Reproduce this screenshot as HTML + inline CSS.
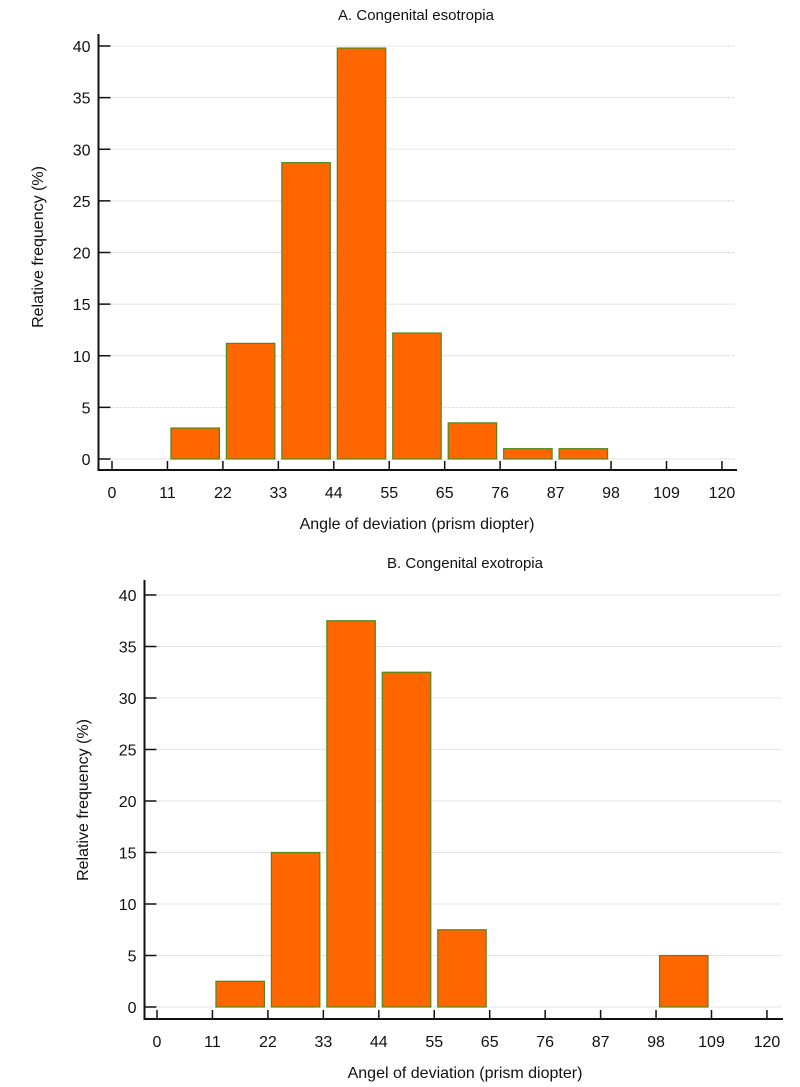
<!DOCTYPE html>
<html><head><meta charset="utf-8"><style>
html,body{margin:0;padding:0;background:#fff;}
svg{display:block;font-family:"Liberation Sans",Arial,sans-serif;}
</style></head><body>
<svg id="svg" width="800" height="1087" viewBox="0 0 800 1087"></svg>
<script>
const categories = ["0","11","22","33","44","55","65","76","87","98","109","120"];
const yTicks = [0,5,10,15,20,25,30,35,40];
const seriesA = [0, 3, 11.2, 28.7, 39.8, 12.2, 3.5, 1, 1, 0, 0];
const seriesB = [0, 2.5, 15, 37.5, 32.5, 7.5, 0, 0, 0, 5, 0];
const titles = ["A. Congenital esotropia", "B. Congenital exotropia"];
const xTitles = ["Angle of deviation (prism diopter)", "Angel of deviation (prism diopter)"];

const NS = "http://www.w3.org/2000/svg";
const svg = document.getElementById('svg');
function mk(tag, attrs, parent){const e=document.createElementNS(NS,tag);for(const k in attrs)e.setAttribute(k,attrs[k]);(parent||svg).appendChild(e);return e;}

function drawPanel(cfg, data, idx){
  const g = mk('g',{});
  
  
  const xs = i => cfg.x0 + i*cfg.step;
  const ys = v => cfg.y0 - v*cfg.unit;
  yTicks.forEach(t=>{
    const l = mk('line',{x1:cfg.axX+1,x2:cfg.gridEnd,y1:ys(t),y2:ys(t),stroke:'#dcdcdc','stroke-width':1,'stroke-dasharray':'3,1'},g);
    
    
  });
  data.forEach((v,i)=>{
    if(v<=0) return;
    const r = mk('rect',{x:xs(i)+3.5,y:ys(v),width:cfg.step-7,height:ys(0)-ys(v),fill:'#ff6600',stroke:'#4c8a1a','stroke-width':1.2},g);
    
    
  });
  const ya = mk('line',{x1:cfg.axX,x2:cfg.axX,y1:cfg.axTop,y2:cfg.axY+1,stroke:'#111','stroke-width':2},g);
  
  
  const xa = mk('line',{x1:cfg.axX-1,x2:cfg.gridEnd+2,y1:cfg.axY,y2:cfg.axY,stroke:'#111','stroke-width':2},g);
  
  
  yTicks.forEach(t=>{
    mk('line',{x1:cfg.axX,x2:cfg.axX+12,y1:ys(t),y2:ys(t),stroke:'#111','stroke-width':1.5},g);
    const tx = mk('text',{x:cfg.axX-8,y:ys(t)+6,'text-anchor':'end','font-size':16,fill:'#111'},g);
    tx.textContent = t;
    
    
  });
  categories.forEach((c,i)=>{
    mk('line',{x1:xs(i),x2:xs(i),y1:cfg.axY,y2:cfg.axY-9,stroke:'#111','stroke-width':1.5},g);
    const tx = mk('text',{x:xs(i),y:cfg.axY+28,'text-anchor':'middle','font-size':16,fill:'#111'},g);
    tx.textContent = c;
    
    
  });
  const tt = mk('text',{x:cfg.titleX,y:cfg.titleY,'text-anchor':'middle','font-size':15,fill:'#111'},g);
  tt.textContent = titles[idx];
  
  
  const xt = mk('text',{x:cfg.xtX,y:cfg.xtY,'text-anchor':'middle','font-size':16,fill:'#111'},g);
  xt.textContent = xTitles[idx];
  
  
  const yt = mk('text',{x:0,y:0,'text-anchor':'middle','font-size':16,fill:'#111',transform:`translate(${cfg.ytX},${cfg.ytY}) rotate(-90)`},g);
  yt.textContent = 'Relative frequency (%)';
  
  
}

drawPanel({x0:112,step:55.45,y0:459,unit:10.325,axX:98.5,axY:470,axTop:34,gridEnd:735,
  titleX:416,titleY:20,xtX:417,xtY:529,ytX:43,ytY:247}, seriesA, 0);
drawPanel({x0:157,step:55.45,y0:1007,unit:10.3,axX:144.5,axY:1019,axTop:580,gridEnd:781,
  titleX:465,titleY:568,xtX:465,xtY:1078,ytX:88,ytY:800}, seriesB, 1);
</script>
</body></html>
